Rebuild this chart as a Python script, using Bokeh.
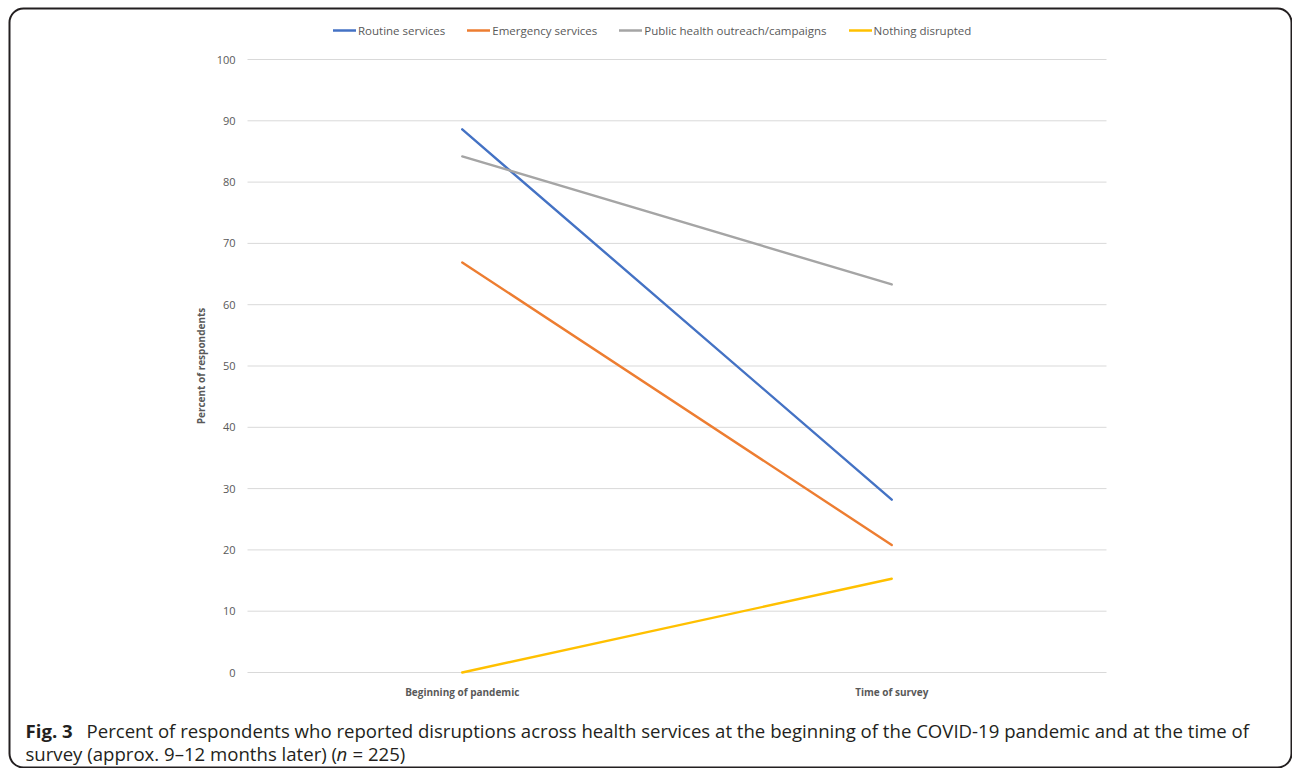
from bokeh.plotting import figure
from bokeh.models import (Range1d, Legend, LegendItem, Label, BoxAnnotation,
                          FixedTicker, LinearAxis)
from bokeh.embed import file_html
from bokeh.resources import INLINE

# Share of respondents (%) reporting each kind of disruption
periods = ["Beginning of pandemic", "Time of survey"]
series_names = ["Routine services", "Emergency services",
                "Public health outreach/campaigns", "Nothing disrupted"]
routine = [88.6, 28.2]
emergency = [66.9, 20.8]
outreach = [84.2, 63.3]
nothing = [0.0, 15.3]
series_colors = ["#4472C4", "#ED7D31", "#A5A5A5", "#FFC000"]
y_ticks = [0, 10, 20, 30, 40, 50, 60, 70, 80, 90, 100]

AXIS_GREY = "#595959"
TEXT_DARK = "#231F20"
FONT = "Open Sans"

# Canvas size and the pixel box that holds the plotting area
W, H = 1292, 768
PLOT_L, PLOT_R, PLOT_T, PLOT_B = 247, 1106, 59, 672

# The frame covers the whole canvas; ranges are set so that the plotting
# area (one slot per period, 0..100 %) lands on the box above.
n = len(periods)
px_per_slot = (PLOT_R - PLOT_L) / n
px_per_pct = (PLOT_B - PLOT_T) / (y_ticks[-1] - y_ticks[0])
x_lo, x_hi = -0.5, n - 0.5
x_start = x_lo - PLOT_L / px_per_slot
x_end = x_start + W / px_per_slot
y_start = y_ticks[0] - (H - PLOT_B) / px_per_pct
y_end = y_ticks[-1] + PLOT_T / px_per_pct

p = figure(width=W, height=H,
           x_range=Range1d(x_start, x_end), y_range=Range1d(y_start, y_end),
           x_axis_location=None, y_axis_location=None,
           output_backend="svg", toolbar_location=None,
           min_border=0, min_border_left=0, min_border_right=0,
           min_border_top=0, min_border_bottom=0)
p.outline_line_color = None
p.grid.visible = False
p.background_fill_color = "white"
p.border_fill_color = "white"

# Horizontal gridlines across the plotting area
p.segment(x0=x_lo, x1=x_hi, y0=y_ticks, y1=y_ticks,
          line_color="#D9D9D9", line_width=1)

# Axes pinned to the edges of the plotting area (labels only)
yaxis = LinearAxis(fixed_location=x_lo, bounds=(y_ticks[0], y_ticks[-1]),
                   ticker=FixedTicker(ticks=y_ticks))
xaxis = LinearAxis(fixed_location=y_ticks[0], bounds=(x_lo, x_hi),
                   ticker=FixedTicker(ticks=list(range(n))),
                   major_label_overrides={i: lab for i, lab in enumerate(periods)})
for ax in (xaxis, yaxis):
    ax.axis_line_color = None
    ax.major_tick_line_color = None
    ax.minor_tick_line_color = None
    ax.major_tick_out = 0
    ax.major_tick_in = 0
    ax.major_label_text_font = FONT
    ax.major_label_text_color = AXIS_GREY
yaxis.major_label_text_font_size = "11px"
yaxis.major_label_standoff = 12
yaxis.axis_label = "Percent of respondents"
yaxis.axis_label_text_font = FONT
yaxis.axis_label_text_font_size = "10px"
yaxis.axis_label_text_font_style = "bold"
yaxis.axis_label_text_color = AXIS_GREY
yaxis.axis_label_standoff = 6
xaxis.major_label_text_font_size = "10px"
xaxis.major_label_text_font_style = "bold"
xaxis.major_label_standoff = 12
p.add_layout(yaxis, "left")
p.add_layout(xaxis, "below")

# Series lines
xs = list(range(n))
items = []
for name, vals, color in zip(series_names,
                             [routine, emergency, outreach, nothing],
                             series_colors):
    r = p.line(x=xs, y=vals, line_color=color, line_width=2.4, line_cap="round")
    items.append(LegendItem(label=name, renderers=[r]))

# Legend along the top (location = bottom-left corner, from frame bottom-left)
legend = Legend(items=items, orientation="horizontal",
                location=(333, H - 40),
                border_line_color=None, background_fill_alpha=0,
                label_text_font=FONT, label_text_font_size="11.5px",
                label_text_color=AXIS_GREY, glyph_width=23, glyph_height=20,
                label_standoff=2, spacing=22, padding=10, margin=0)
p.add_layout(legend)

# Rounded frame around the figure
p.add_layout(BoxAnnotation(left=9, right=W - 1, top=H - 8, bottom=H - 767,
                           left_units="screen", right_units="screen",
                           top_units="screen", bottom_units="screen",
                           fill_alpha=0, line_color=TEXT_DARK, line_alpha=1,
                           line_width=2, border_radius=14))

# Caption
cap_kw = dict(x_units="screen", y_units="screen", text_font=FONT,
              text_font_size="18.6px", text_color=TEXT_DARK,
              text_baseline="alphabetic")
p.add_layout(Label(x=25, y=H - 730, text="Fig. 3", text_font_style="bold", **cap_kw))
p.add_layout(Label(x=86, y=H - 730,
                   text="Percent of respondents who reported disruptions across health "
                        "services at the beginning of the COVID-19 pandemic and at the time of",
                   **cap_kw))
p.add_layout(Label(x=25, y=H - 753, text="survey (approx. 9\u201312 months later) (", **cap_kw))
p.add_layout(Label(x=336, y=H - 753, text="n", text_font_style="italic", **cap_kw))
p.add_layout(Label(x=352, y=H - 753, text="= 225)", **cap_kw))

open("out.html", "w").write(file_html(p, INLINE))
